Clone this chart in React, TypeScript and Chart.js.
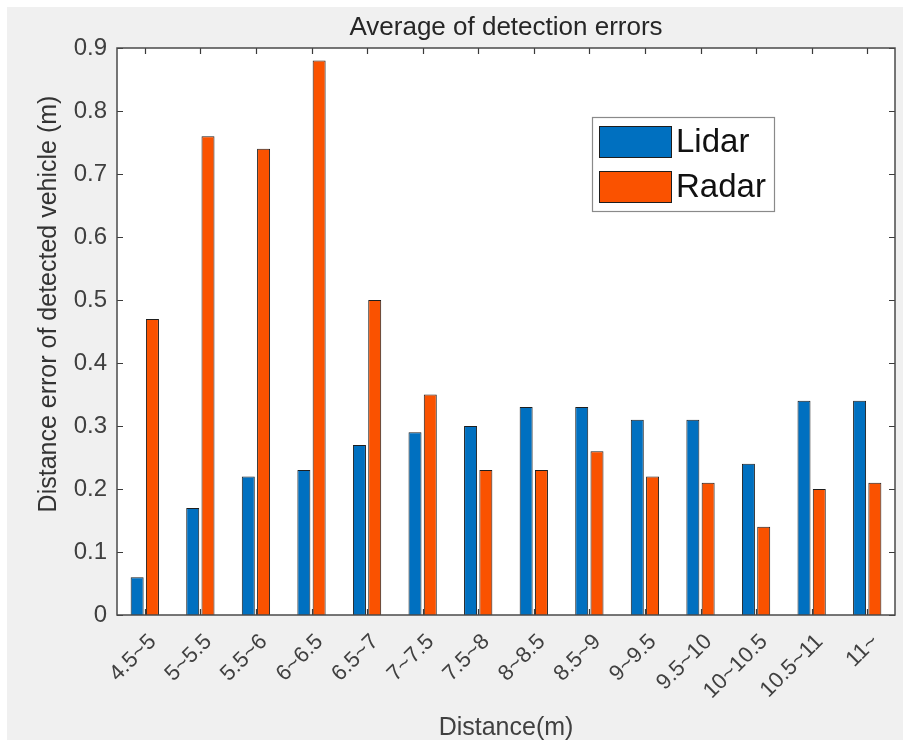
import React, { useEffect, useRef } from "react";
import { Chart, registerables } from "chart.js";

Chart.register(...registerables);

const categories = ["4.5~5", "5~5.5", "5.5~6", "6~6.5", "6.5~7", "7~7.5", "7.5~8", "8~8.5", "8.5~9", "9~9.5", "9.5~10", "10~10.5", "10.5~11", "11~"];
const lidarValues = [0.06, 0.17, 0.22, 0.23, 0.27, 0.29, 0.30, 0.33, 0.33, 0.31, 0.31, 0.24, 0.34, 0.34];
const radarValues = [0.47, 0.76, 0.74, 0.88, 0.50, 0.35, 0.23, 0.23, 0.26, 0.22, 0.21, 0.14, 0.20, 0.21];
const seriesNames = ["Lidar", "Radar"];
const seriesColors = ["#0070C0", "#FA5200"];
const yMin = 0;
const yMax = 0.9;
const yStep = 0.1;
const titleText = "Average of detection errors";
const xTitle = "Distance(m)";
const yTitle = "Distance error of detected vehicle (m)";

const FONT = "'Liberation Sans', Arial, Helvetica, sans-serif";

const matlabPlugin = {
  id: "matlabStyle",
  beforeDraw(chart: any) {
    const { ctx, chartArea, width, height } = chart;
    ctx.save();
    ctx.fillStyle = "#f0f0f0";
    ctx.fillRect(0, 0, width, height);
    ctx.fillStyle = "#ffffff";
    ctx.fillRect(chartArea.left, chartArea.top, chartArea.right - chartArea.left, chartArea.bottom - chartArea.top);
    ctx.restore();
  },
  afterDraw(chart: any) {
    const { ctx, chartArea } = chart;
    const { left, right, top, bottom } = chartArea;
    const xs = chart.scales.x;
    const ys = chart.scales.y;
    ctx.save();
    ctx.strokeStyle = "#3a3a3a";
    ctx.lineWidth = 1.2;
    // inner ticks
    ctx.beginPath();
    const tl = 6;
    ys.ticks.forEach((t: any, i: number) => {
      const y = Math.round(ys.getPixelForTick(i)) + 0.5;
      ctx.moveTo(left, y);
      ctx.lineTo(left + tl, y);
      ctx.moveTo(right, y);
      ctx.lineTo(right - tl, y);
    });
    xs.ticks.forEach((t: any, i: number) => {
      const x = Math.round(xs.getPixelForTick(i)) + 0.5;
      ctx.moveTo(x, bottom);
      ctx.lineTo(x, bottom - tl);
      ctx.moveTo(x, top);
      ctx.lineTo(x, top + tl);
    });
    ctx.stroke();
    // box
    ctx.strokeStyle = "#4a4a4a";
    ctx.lineWidth = 1.5;
    ctx.strokeRect(left, top, right - left, bottom - top);

    // title (centered over the axes box)
    ctx.fillStyle = "#262626";
    ctx.font = `26px ${FONT}`;
    ctx.textAlign = "center";
    ctx.textBaseline = "middle";
    ctx.fillText(titleText, (left + right) / 2, top - 20);

    // y axis title
    ctx.save();
    ctx.translate(42, 297);
    ctx.rotate(-Math.PI / 2);
    ctx.fillStyle = "#333333";
    ctx.font = `25px ${FONT}`;
    ctx.textAlign = "center";
    ctx.textBaseline = "middle";
    ctx.fillText(yTitle, 0, 0);
    ctx.restore();

    // legend
    const lx = right - 303;
    const ly = top + 69;
    const lw = 182;
    const lh = 94;
    ctx.fillStyle = "#ffffff";
    ctx.fillRect(lx, ly, lw, lh);
    ctx.strokeStyle = "#8a8a8a";
    ctx.lineWidth = 1.2;
    ctx.strokeRect(lx + 0.5, ly + 0.5, lw, lh);
    chart.data.datasets.forEach((ds: any, i: number) => {
      const sy = ly + 9 + i * 45;
      ctx.fillStyle = ds.backgroundColor;
      ctx.fillRect(lx + 7, sy, 72, 31);
      ctx.strokeStyle = "#1e1e1e";
      ctx.lineWidth = 1;
      ctx.strokeRect(lx + 7.5, sy + 0.5, 72, 31);
      ctx.fillStyle = "#111111";
      ctx.font = `33px ${FONT}`;
      ctx.textBaseline = "middle";
      ctx.textAlign = "left";
      ctx.fillText(ds.label, lx + 84, sy + 17);
    });
    ctx.restore();
  },
};

export default function App() {
  const ref = useRef<HTMLCanvasElement | null>(null);
  useEffect(() => {
    if (!ref.current) return;
    const chart = new Chart(ref.current, {
      type: "bar",
      data: {
        labels: categories,
        datasets: [lidarValues, radarValues].map((vals, i) => ({
          label: seriesNames[i],
          data: vals,
          backgroundColor: seriesColors[i],
          borderColor: "#1e1e1e",
          borderWidth: 1,
          categoryPercentage: 0.55,
          barPercentage: 0.85,
        })),
      },
      options: {
        responsive: false,
        maintainAspectRatio: false,
        animation: false,
        devicePixelRatio: 1,
        layout: { padding: { left: 0, right: 8, top: 41, bottom: 0 } },
        plugins: {
          legend: { display: false },
          tooltip: { enabled: false },
          title: { display: false, text: titleText },
        },
        scales: {
          x: {
            grid: { display: false, drawTicks: false },
            border: { display: false },
            ticks: {
              minRotation: 45,
              maxRotation: 45,
              autoSkip: false,
              color: "#404040",
              font: { family: FONT, size: 22 },
              padding: 14,
              labelOffset: 8,
            },
            title: {
              display: true,
              text: xTitle,
              color: "#404040",
              font: { family: FONT, size: 25 },
              padding: { top: 0, bottom: -3 },
            },
            afterFit: (s: any) => {
              s.height = 125;
            },
          },
          y: {
            min: yMin,
            max: yMax,
            grid: { display: false, drawTicks: false },
            border: { display: false },
            ticks: {
              stepSize: yStep,
              color: "#404040",
              font: { family: FONT, size: 24 },
              padding: 10,
            },
            title: { display: false, text: yTitle },
            afterFit: (s: any) => {
              s.width = 110;
            },
          },
        },
      },
      plugins: [matlabPlugin],
    } as any);
    return () => chart.destroy();
  }, []);
  return (
    <div style={{ position: "fixed", left: 7, top: 7, width: 896, height: 733 }}>
      <canvas ref={ref} width={896} height={733} style={{ display: "block" }} />
    </div>
  );
}
